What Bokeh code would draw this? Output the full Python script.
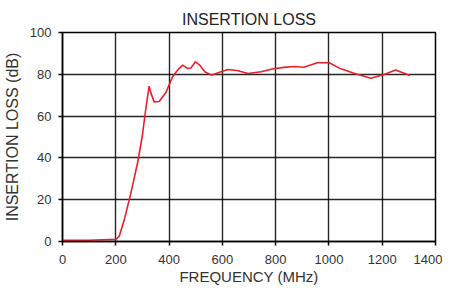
from bokeh.plotting import figure
from bokeh.models import Range1d, FixedTicker
from bokeh.embed import file_html
from bokeh.resources import INLINE

freq_mhz = [0, 100, 200, 213, 231, 256, 281, 299, 312, 325, 332, 344, 363, 389, 413, 432,
            451, 469, 482, 499, 515, 534, 559, 584, 621, 659, 696, 746, 787, 830, 870,
            905, 957, 1001, 1045, 1094, 1157, 1207, 1250, 1304]
loss_db = [0.6, 0.6, 1.0, 2.5, 10, 22.8, 37.2, 50, 62.8, 74.3, 71, 66.8, 67, 71.5, 78.8, 82,
           84.4, 82.8, 83, 86, 84.4, 81.2, 79.6, 80.7, 82.3, 81.7, 80.4, 81.2, 82.5, 83.3, 83.7,
           83.4, 85.5, 85.5, 82.6, 80.5, 78.1, 79.9, 82.1, 79.4]
x_ticks = [0, 200, 400, 600, 800, 1000, 1200, 1400]
y_ticks = [0, 20, 40, 60, 80, 100]

FONT = "Liberation Sans"

p = figure(width=442, height=288, output_backend="svg", toolbar_location=None,
           x_range=Range1d(0, 1400), y_range=Range1d(0, 100),
           title="INSERTION LOSS", min_border_left=61, min_border_right=7,
           min_border_top=32, min_border_bottom=47)
p.title.align = "center"
p.title.text_font = FONT
p.title.text_font_size = "16px"
p.title.text_font_style = "normal"
p.title.text_color = "#222222"
p.title.offset = 0
p.title.standoff = 10

p.line(freq_mhz, loss_db, line_color="#e8202a", line_width=1.6)

for ax in (p.xaxis, p.yaxis):
    ax.axis_line_color = "black"
    ax.axis_line_width = 1.5
    ax.major_tick_line_color = "black"
    ax.major_tick_line_width = 1.5
    ax.major_tick_out = 4
    ax.major_tick_in = 0
    ax.minor_tick_line_color = None
    ax.major_label_text_font = FONT
    ax.major_label_text_font_size = "13px"
    ax.major_label_text_color = "#333333"
    ax.axis_label_text_font = FONT
    ax.axis_label_text_font_style = "normal"
    ax.axis_label_text_color = "#333333"

p.xaxis.axis_label_text_font_size = "15px"
p.yaxis.axis_label_text_font_size = "16px"
p.xaxis.ticker = FixedTicker(ticks=x_ticks)
p.yaxis.ticker = FixedTicker(ticks=y_ticks)
p.xaxis.axis_label = "FREQUENCY (MHz)"
p.yaxis.axis_label = "INSERTION LOSS (dB)"
p.xaxis.axis_label_standoff = 1
p.yaxis.axis_label_standoff = 6
p.xaxis.major_label_standoff = 9
p.yaxis.major_label_standoff = 7

p.xgrid.grid_line_color = "black"
p.ygrid.grid_line_color = "black"
p.xgrid.grid_line_width = 1.4
p.ygrid.grid_line_width = 1.4
p.xgrid.grid_line_alpha = 0.85
p.ygrid.grid_line_alpha = 0.85
p.outline_line_color = "black"
p.outline_line_width = 1.5

open("out.html", "w").write(file_html(p, INLINE))
